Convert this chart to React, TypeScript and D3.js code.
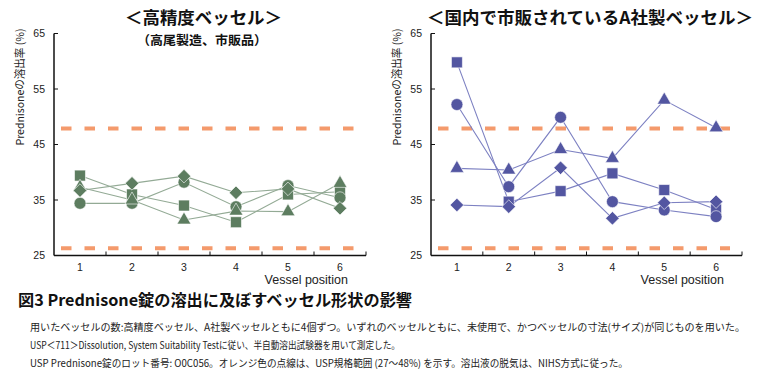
import React from "react";
import * as d3 from "d3";

const positions = [1, 2, 3, 4, 5, 6];
const yTicks = [25, 35, 45, 55, 65];
const uspRange = [26.3, 47.9];

const leftSquare = [39.4, 36.0, 34.0, 31.0, 36.0, 36.5];
const leftCircle = [34.4, 34.4, 38.2, 33.8, 37.6, 35.4];
const leftTriangle = [37.3, 35.0, 31.4, 33.0, 32.9, 38.0];
const leftDiamond = [36.7, 38.0, 39.3, 36.3, 37.0, 33.5];

const rightSquare = [59.8, 34.7, 36.6, 39.8, 36.8, 33.3];
const rightCircle = [52.2, 37.4, 49.9, 34.7, 33.2, 32.0];
const rightTriangle = [40.7, 40.4, 44.1, 42.5, 53.0, 48.0];
const rightDiamond = [34.1, 33.8, 40.8, 31.7, 34.5, 34.7];

const leftTitle = "＜高精度ベッセル＞";
const leftSubtitle = "（高尾製造、市販品）";
const rightTitle = "＜国内で市販されているA社製ベッセル＞";
const yLabel = "Prednisoneの溶出率 (%)";
const xLabel = "Vessel position";
const captionTitle = "図3 Prednisone錠の溶出に及ぼすベッセル形状の影響";
const captionLines = [
  "用いたベッセルの数:高精度ベッセル、A社製ベッセルともに4個ずつ。いずれのベッセルともに、未使用で、かつベッセルの寸法(サイズ)が同じものを用いた。",
  "USP＜711＞Dissolution, System Suitability Testに従い、半自動溶出試験器を用いて測定した。",
  "USP Prednisone錠のロット番号: O0C056。オレンジ色の点線は、USP規格範囲 (27～48%) を示す。溶出液の脱気は、NIHS方式に従った。",
];

const JP = "'Noto Sans CJK JP', 'Liberation Sans', sans-serif";
const LAT = "'Liberation Sans', Arial, sans-serif";

type Series = { values: number[]; shape: string };

function markerPath(shape: string) {
  if (shape === "square") return d3.symbol().type(d3.symbolSquare).size(120)();
  if (shape === "circle") return d3.symbol().type(d3.symbolCircle).size(112)();
  if (shape === "triangle") return d3.symbol().type(d3.symbolTriangle).size(84)();
  return d3.symbol().type(d3.symbolSquare).size(92)();
}

function Panel(props: {
  x0: number;
  x1: number;
  series: Series[];
  color: string;
  lineColor: string;
}) {
  const { x0, x1, series, color, lineColor } = props;
  const y = d3.scaleLinear().domain([25, 65]).range([255.5, 33.5]);
  const x = d3.scaleBand<number>().domain(positions).range([x0, x1]);
  const cx = (p: number) => (x(p) as number) + x.bandwidth() / 2;
  const line = d3
    .line<number>()
    .x((_, i) => cx(positions[i]))
    .y((v) => y(v));
  const boundaries = positions.map((p) => (x(p) as number) + x.bandwidth());
  return (
    <g>
      {uspRange.map((v, i) => (
        <line
          key={"u" + i}
          x1={x0 + 7}
          x2={x1 - 12}
          y1={y(v)}
          y2={y(v)}
          stroke="#f49a6c"
          strokeWidth={4}
          strokeDasharray="10.5 13"
        />
      ))}
      <line x1={x0} x2={x0} y1={y(65)} y2={y(25)} stroke="#111" strokeWidth={1.5} />
      <line x1={x0} x2={x1} y1={y(25)} y2={y(25)} stroke="#111" strokeWidth={1.5} />
      {yTicks.map((t) => (
        <g key={"yt" + t}>
          <line x1={x0} x2={x0 + 4} y1={y(t)} y2={y(t)} stroke="#111" strokeWidth={1} />
          <text
            x={x0 - 9}
            y={y(t) + 3.8}
            textAnchor="end"
            fontFamily={LAT}
            fontSize={10.5}
            fill="#222"
          >
            {t}
          </text>
        </g>
      ))}
      {boundaries.map((b, i) => (
        <line key={"xb" + i} x1={b} x2={b} y1={y(25)} y2={y(25) - 4} stroke="#111" strokeWidth={1} />
      ))}
      {positions.map((p) => (
        <text
          key={"xl" + p}
          x={cx(p)}
          y={270.5}
          textAnchor="middle"
          fontFamily={LAT}
          fontSize={10.5}
          fill="#222"
        >
          {p}
        </text>
      ))}
      <text
        x={x1 - 18}
        y={284}
        textAnchor="end"
        fontFamily={LAT}
        fontSize={12.5}
        fill="#222"
      >
        {xLabel}
      </text>
      <text
        transform={`translate(${x0 - 30},87) rotate(-90)`}
        textAnchor="middle"
        fontFamily={JP}
        fontSize={11}
        fill="#222"
        textLength={117}
        lengthAdjust="spacingAndGlyphs"
      >
        {yLabel}
      </text>
      {series.map((s, i) => (
        <path key={"l" + i} d={line(s.values) || ""} fill="none" stroke={lineColor} strokeWidth={1.1} />
      ))}
      {series.map((s, i) =>
        s.values.map((v, j) => (
          <path
            key={"m" + i + "-" + j}
            d={markerPath(s.shape) || ""}
            transform={`translate(${cx(positions[j])},${y(v)})${s.shape === "diamond" ? " rotate(45)" : ""}`}
            fill={color}
            stroke="#ffffff"
            strokeWidth={0.6}
          />
        ))
      )}
    </g>
  );
}

export default function App() {
  const leftSeries: Series[] = [
    { values: leftSquare, shape: "square" },
    { values: leftCircle, shape: "circle" },
    { values: leftTriangle, shape: "triangle" },
    { values: leftDiamond, shape: "diamond" },
  ];
  const rightSeries: Series[] = [
    { values: rightSquare, shape: "square" },
    { values: rightCircle, shape: "circle" },
    { values: rightTriangle, shape: "triangle" },
    { values: rightDiamond, shape: "diamond" },
  ];
  return (
    <svg
      width={760}
      height={380}
      viewBox="0 0 760 380"
      style={{ position: "absolute", left: 0, top: 0, background: "#fff" }}
    >
      <rect x={0} y={0} width={760} height={380} fill="#fff" />
      <text x={125} y={24} fontFamily={JP} fontWeight="bold" fontSize={17} fill="#111" textLength={157} lengthAdjust="spacingAndGlyphs">
        {leftTitle}
      </text>
      <text x={137} y={44.5} fontFamily={JP} fontWeight="bold" fontSize={12.5} fill="#111" textLength={130} lengthAdjust="spacingAndGlyphs">
        {leftSubtitle}
      </text>
      <text x={427} y={24} fontFamily={JP} fontWeight="bold" fontSize={17} fill="#111" textLength={326} lengthAdjust="spacingAndGlyphs">
        {rightTitle}
      </text>
      <Panel x0={54} x1={366} series={leftSeries} color="#5d7d60" lineColor="#93aa95" />
      <Panel x0={431} x1={742} series={rightSeries} color="#5356a1" lineColor="#7d81c2" />
      <text x={18} y={306} fontFamily={JP} fontWeight="bold" fontSize={16} fill="#111" textLength={394} lengthAdjust="spacingAndGlyphs">
        {captionTitle}
      </text>
      <text x={30} y={331} fontFamily={JP} fontSize={10} fill="#222" textLength={715} lengthAdjust="spacingAndGlyphs">
        {captionLines[0]}
      </text>
      <text x={30} y={349} fontFamily={JP} fontSize={10} fill="#222" textLength={370} lengthAdjust="spacingAndGlyphs">
        {captionLines[1]}
      </text>
      <text x={30} y={367} fontFamily={JP} fontSize={10} fill="#222" textLength={598} lengthAdjust="spacingAndGlyphs">
        {captionLines[2]}
      </text>
    </svg>
  );
}
